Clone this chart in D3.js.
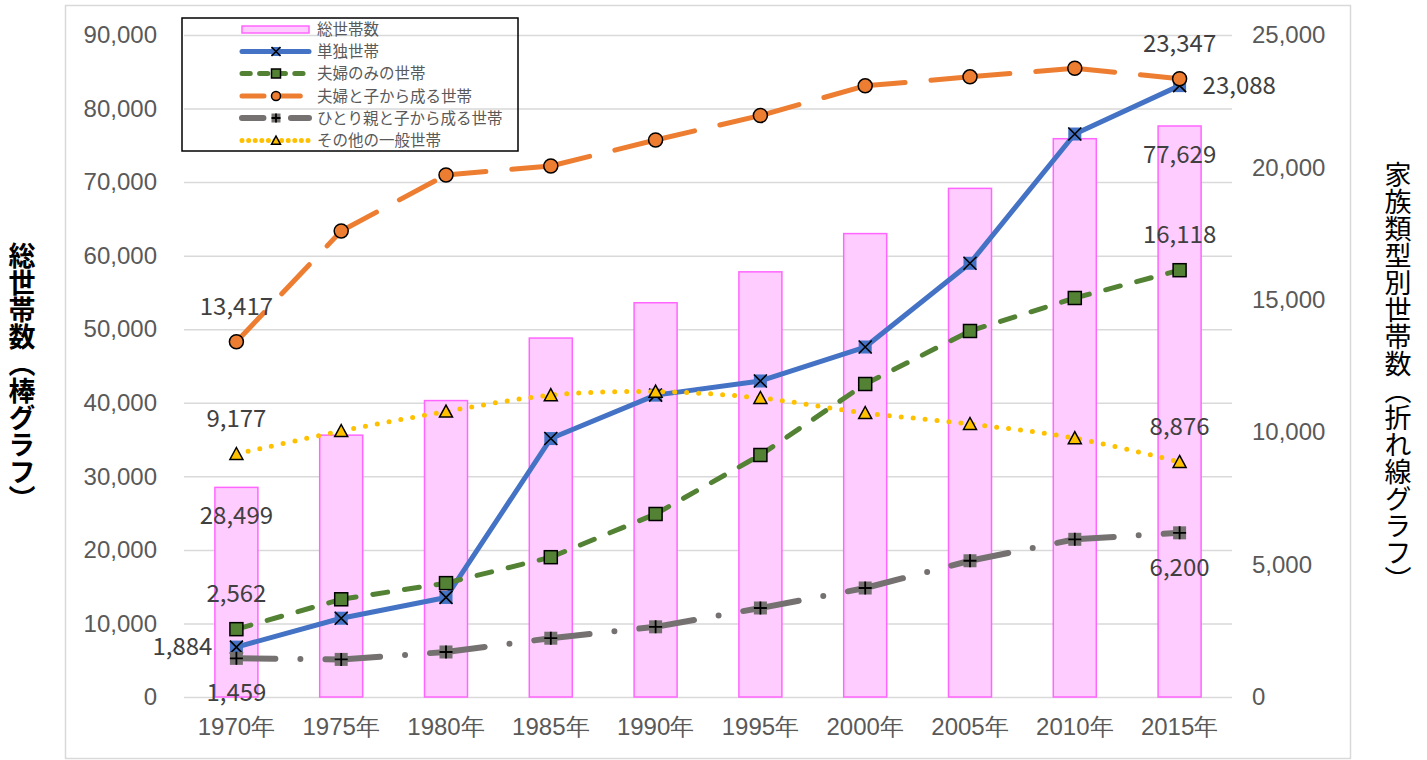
<!DOCTYPE html>
<html>
<head>
<meta charset="utf-8">
<script src="https://cdn.jsdelivr.net/npm/d3@7.9.0/dist/d3.min.js"></script>
<style>
  body { margin: 0; background: #fff; }
  svg { display: block; font-family: "Noto Sans CJK JP", "Noto Sans", sans-serif; }
</style>
</head>
<body>
<svg id="chart" width="1427" height="760"></svg>
<script>
// data
const years = ["1970年", "1975年", "1980年", "1985年", "1990年", "1995年", "2000年", "2005年", "2010年", "2015年"];
const totalHouseholds = [28499, 35600, 40300, 48800, 53600, 57800, 63000, 69150, 75900, 77629];
const singleHouseholds = [1884, 2975, 3760, 9760, 11400, 11934, 13217, 16380, 21260, 23088];
const coupleOnly = [2562, 3690, 4300, 5280, 6911, 9139, 11820, 13822, 15068, 16118];
const coupleWithChildren = [13417, 17598, 19713, 20053, 21035, 21960, 23080, 23420, 23745, 23347];
const singleParent = [1459, 1420, 1700, 2220, 2650, 3361, 4116, 5145, 5955, 6200];
const otherHouseholds = [9177, 10045, 10780, 11400, 11530, 11292, 10725, 10310, 9775, 8876];
const leftTicks = [0, 10000, 20000, 30000, 40000, 50000, 60000, 70000, 80000, 90000];
const rightTicks = [0, 5000, 10000, 15000, 20000, 25000];

const svg = d3.select("#chart");
const fmt = d3.format(",");

const x = d3.scaleBand().domain(years).range([184, 1232]);
const yL = d3.scaleLinear().domain([0, 90000]).range([697, 35]);
const yR = d3.scaleLinear().domain([0, 25000]).range([697, 35]);

// outer chart frame
svg.append("rect")
  .attr("x", 65.5).attr("y", 5.5).attr("width", 1285).attr("height", 753)
  .attr("fill", "#fff").attr("stroke", "#d9d9d9").attr("stroke-width", 1.5);

// gridlines
const grid = svg.append("g").attr("transform", "translate(184,0)")
  .call(d3.axisLeft(yL).tickValues(leftTicks).tickSize(-1048).tickFormat(""));
grid.select(".domain").remove();
grid.selectAll("line").attr("stroke", "#d9d9d9").attr("stroke-width", 1.5);

// left axis labels
const axL = svg.append("g").attr("transform", "translate(157,0)")
  .call(d3.axisLeft(yL).tickValues(leftTicks).tickSize(0).tickPadding(0).tickFormat(fmt));
axL.select(".domain").remove();
axL.selectAll("text").attr("fill", "#595959").style("font-size", "24px");

// right axis labels
const axR = svg.append("g").attr("transform", "translate(1252,0)")
  .call(d3.axisRight(yR).tickValues(rightTicks).tickSize(0).tickPadding(0).tickFormat(fmt));
axR.select(".domain").remove();
axR.selectAll("text").attr("fill", "#595959").style("font-size", "24px");

// bottom axis labels
const axB = svg.append("g").attr("transform", "translate(0,697)")
  .call(d3.axisBottom(x).tickSize(0).tickPadding(21));
axB.select(".domain").remove();
axB.selectAll("text").attr("fill", "#595959").style("font-size", "24px");

// axis titles
svg.append("text")
  .attr("x", 22).attr("y", 377)
  .attr("text-anchor", "middle")
  .style("writing-mode", "vertical-rl")
  .style("font-size", "27px").style("font-weight", "bold")
  .attr("fill", "#000")
  .text("総世帯数（棒グラフ）");
svg.append("text")
  .attr("x", 1398).attr("y", 377)
  .attr("text-anchor", "middle")
  .style("writing-mode", "vertical-rl")
  .style("font-size", "27px")
  .attr("fill", "#000")
  .text("家族類型別世帯数（折れ線グラフ）");

// bars
const barW = 43;
svg.append("g").selectAll("rect")
  .data(totalHouseholds)
  .join("rect")
  .attr("x", (d, i) => x(years[i]) + x.bandwidth() / 2 - barW / 2)
  .attr("y", d => yL(d))
  .attr("width", barW)
  .attr("height", d => yL(0) - yL(d))
  .attr("fill", "#ffccff")
  .attr("stroke", "#ff66ff")
  .attr("stroke-width", 1.5);

const cx = i => x(years[i]) + x.bandwidth() / 2;

function marker(g, type, px, py, s) {
  const h = s / 2;
  if (type === "x") {
    g.append("rect").attr("x", px - h).attr("y", py - h).attr("width", s).attr("height", s).attr("fill", "#4472c4");
    g.append("path").attr("d", `M${px - h},${py - h}L${px + h},${py + h}M${px - h},${py + h}L${px + h},${py - h}`)
      .attr("stroke", "#000").attr("stroke-width", 1.6);
  } else if (type === "square") {
    g.append("rect").attr("x", px - h).attr("y", py - h).attr("width", s).attr("height", s)
      .attr("fill", "#548235").attr("stroke", "#000").attr("stroke-width", 1.5);
  } else if (type === "circle") {
    g.append("circle").attr("cx", px).attr("cy", py).attr("r", h)
      .attr("fill", "#ed7d31").attr("stroke", "#000").attr("stroke-width", 1.5);
  } else if (type === "plus") {
    g.append("rect").attr("x", px - h).attr("y", py - h).attr("width", s).attr("height", s).attr("fill", "#767171");
    g.append("path").attr("d", `M${px - h},${py}L${px + h},${py}M${px},${py - h}L${px},${py + h}`)
      .attr("stroke", "#000").attr("stroke-width", 1.8);
  } else if (type === "triangle") {
    g.append("path").attr("d", `M${px},${py - h}L${px + h},${py + h * 0.85}L${px - h},${py + h * 0.85}Z`)
      .attr("fill", "#ffc000").attr("stroke", "#000").attr("stroke-width", 1.5).attr("stroke-linejoin", "miter");
  }
}

const series = [
  { name: "単独世帯", values: singleHouseholds, color: "#4472c4", width: 5, dash: null, mk: "x" },
  { name: "夫婦のみの世帯", values: coupleOnly, color: "#548235", width: 5, dash: "15 17", mk: "square" },
  { name: "夫婦と子から成る世帯", values: coupleWithChildren, color: "#ed7d31", width: 5, dash: "40 26", mk: "circle" },
  { name: "ひとり親と子から成る世帯", values: singleParent, color: "#767171", width: 6, dash: "39 25 0 25", mk: "plus" },
  { name: "その他の一般世帯", values: otherHouseholds, color: "#ffc000", width: 5, dash: "0 12", mk: "triangle", smooth: true }
];

const line = d3.line().x(d => d[0]).y(d => d[1]);
const smoothLine = d3.line().x(d => d[0]).y(d => d[1]).curve(d3.curveCardinal);

series.forEach(s => {
  const g = svg.append("g");
  const pts = s.values.map((v, i) => [cx(i), yR(v)]);
  if (s.smooth) {
    g.append("path").attr("d", smoothLine(pts))
      .attr("fill", "none").attr("stroke", s.color).attr("stroke-width", s.width)
      .attr("stroke-linecap", "round").attr("stroke-dasharray", s.dash);
  } else {
    d3.pairs(pts).forEach(seg => {
      g.append("path").attr("d", line(seg))
        .attr("fill", "none").attr("stroke", s.color).attr("stroke-width", s.width)
        .attr("stroke-linecap", "round").attr("stroke-linejoin", "round")
        .attr("stroke-dasharray", s.dash);
    });
  }
  pts.forEach(p => marker(g, s.mk, p[0], p[1], s.mk === "circle" ? 14 : 13));
});

// data labels (first and last points only)
const labels = svg.append("g").attr("fill", "#404040").style("font-size", "24px");
function label(txt, px, py, pos) {
  const t = labels.append("text").text(txt);
  if (pos === "above") t.attr("x", px).attr("y", py - 27).attr("text-anchor", "middle");
  else if (pos === "below") t.attr("x", px).attr("y", py + 43).attr("text-anchor", "middle");
  else if (pos === "left") t.attr("x", px - 24).attr("y", py + 8).attr("text-anchor", "end");
  else if (pos === "right") t.attr("x", px + 23).attr("y", py + 8).attr("text-anchor", "start");
  else if (pos === "inside") t.attr("x", px).attr("y", py + 37).attr("text-anchor", "middle");
}
const last = years.length - 1;
label(fmt(totalHouseholds[0]), cx(0), yL(totalHouseholds[0]), "inside");
label(fmt(totalHouseholds[last]), cx(last), yL(totalHouseholds[last]), "inside");
const labelPos = [["left", "right"], ["above", "above"], ["above", "above"], ["below", "below"], ["above", "above"]];
series.forEach((s, k) => {
  label(fmt(s.values[0]), cx(0), yR(s.values[0]), labelPos[k][0]);
  label(fmt(s.values[last]), cx(last), yR(s.values[last]), labelPos[k][1]);
});

// legend (transparent box)
const lg = svg.append("g");
lg.append("rect").attr("x", 182).attr("y", 18).attr("width", 336).attr("height", 133)
  .attr("fill", "none").attr("stroke", "#000").attr("stroke-width", 1.5);
const rowY = [29.5, 51.5, 73.5, 96, 118, 140.5];
lg.append("rect").attr("x", 242).attr("y", rowY[0] - 3.5).attr("width", 67).attr("height", 7)
  .attr("fill", "#ffccff").attr("stroke", "#ff66ff").attr("stroke-width", 1.5);
lg.append("text").attr("x", 317).attr("y", rowY[0] + 5.5).attr("fill", "#595959").style("font-size", "15.5px").text("総世帯数");
series.forEach((s, k) => {
  const yy = rowY[k + 1];
  lg.append("path").attr("d", line([[242, yy], [309, yy]]))
    .attr("stroke", s.color).attr("stroke-width", s.width)
    .attr("stroke-linecap", "round")
    .attr("stroke-dasharray", s.dash ? s.dash.split(" ").map(v => +v * 0.55).join(" ") : null);
  marker(lg, s.mk, 276, yy, 9);
  lg.append("text").attr("x", 317).attr("y", yy + 5.5).attr("fill", "#595959").style("font-size", "15.5px").text(s.name);
});
</script>
</body>
</html>
